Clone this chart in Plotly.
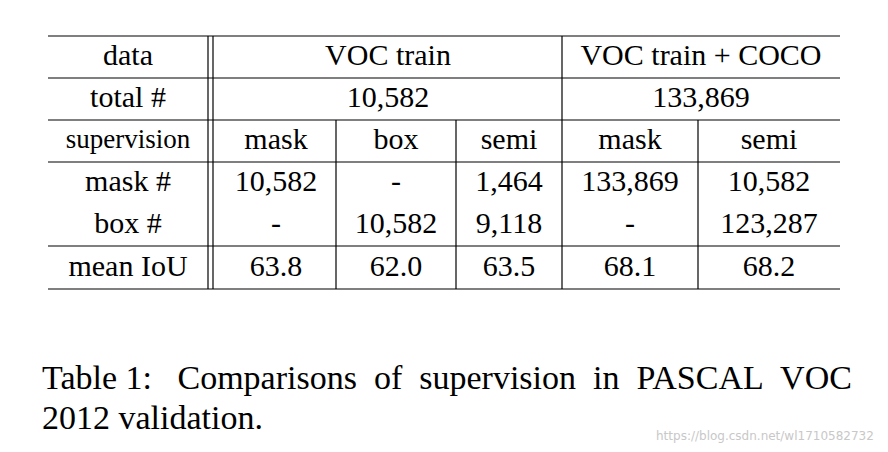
import plotly.graph_objects as go

# table content
row_labels = ["data", "total #", "supervision", "mask #", "box #", "mean IoU"]
groups = ["VOC train", "VOC train + COCO"]
totals = ["10,582", "133,869"]
supervision = ["mask", "box", "semi", "mask", "semi"]
mask_counts = ["10,582", "-", "1,464", "133,869", "10,582"]
box_counts = ["-", "10,582", "9,118", "-", "123,287"]
mean_iou = ["63.8", "62.0", "63.5", "68.1", "68.2"]
caption_lines = ["Table 1:&nbsp;&nbsp; Comparisons&nbsp; of&nbsp; supervision&nbsp; in&nbsp; PASCAL&nbsp; VOC",
                 "2012 validation."]
watermark = "https://blog.csdn.net/wl1710582732"

# layout geometry (pixels)
col_x = [128, 276, 396, 509, 630, 769]
group_x = [388, 701]
row_y = [57, 99, 141, 183, 225, 268]
h_lines = [36, 78, 120, 162, 246, 289]
left, right = 48, 840

fig = go.Figure()
font = "Liberation Serif, Times New Roman, serif"

# row labels
fig.add_trace(go.Scatter(
    x=[col_x[0]] * len(row_labels), y=row_y, mode="text",
    text=row_labels,
    textfont=dict(family=font, size=[30, 30, 27, 30, 30, 30], color="black"),
    hoverinfo="skip"))
# group headers and totals
fig.add_trace(go.Scatter(
    x=group_x + group_x, y=[row_y[0]] * 2 + [row_y[1]] * 2, mode="text",
    text=groups + totals, textfont=dict(family=font, size=30, color="black"),
    hoverinfo="skip"))
# body cells
for vals, y in zip([supervision, mask_counts, box_counts, mean_iou], row_y[2:]):
    fig.add_trace(go.Scatter(
        x=col_x[1:], y=[y] * len(vals), mode="text", text=vals,
        textfont=dict(family=font, size=30, color="black"), hoverinfo="skip"))

line = dict(color="black", width=1.2)
for y in h_lines:
    fig.add_shape(type="line", x0=left, x1=right, y0=y, y1=y, line=line)
for x in [208, 213, 562]:
    fig.add_shape(type="line", x0=x, x1=x, y0=36, y1=289, line=line)
for x in [336, 456, 698]:
    fig.add_shape(type="line", x0=x, x1=x, y0=120, y1=289, line=line)

# caption
fig.add_annotation(x=40, y=377, text=caption_lines[0], showarrow=False, xanchor="left",
                   font=dict(family=font, size=34, color="black"))
fig.add_annotation(x=40, y=417, text=caption_lines[1], showarrow=False, xanchor="left",
                   font=dict(family=font, size=34, color="black"))
fig.add_annotation(x=876, y=436, text=watermark, showarrow=False, xanchor="right",
                   font=dict(family="DejaVu Sans, sans-serif", size=12, color="#c8c8c8"))

fig.update_layout(
    width=888, height=452, margin=dict(l=0, r=0, t=0, b=0),
    paper_bgcolor="white", plot_bgcolor="white", showlegend=False,
    xaxis=dict(range=[8, 896], visible=False, fixedrange=True),
    yaxis=dict(range=[460, 8], visible=False, fixedrange=True),
)

fig.write_html("out.html")
